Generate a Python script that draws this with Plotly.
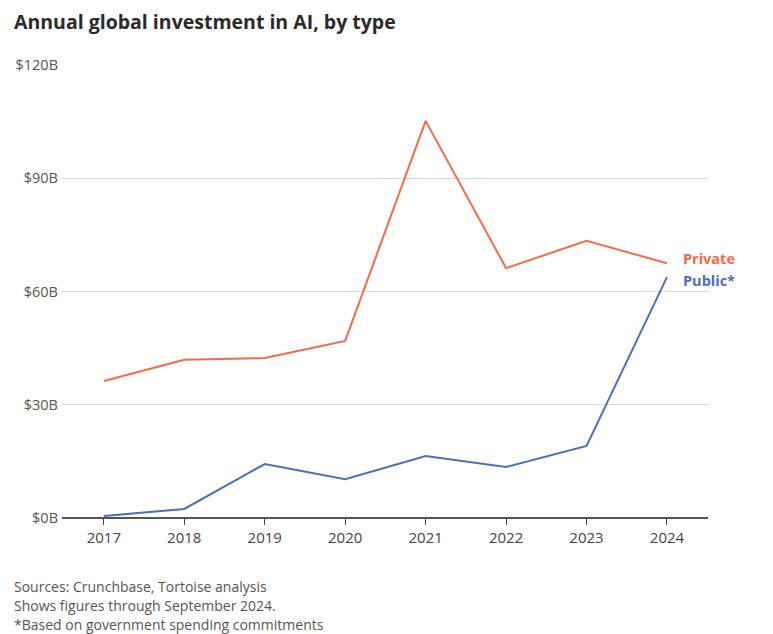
import plotly.graph_objects as go

# Annual global AI investment, billions of US dollars
years = [2017, 2018, 2019, 2020, 2021, 2022, 2023, 2024]
private_inv = [36.3, 41.9, 42.4, 46.9, 105.2, 66.2, 73.4, 67.5]
public_inv = [0.5, 2.4, 14.3, 10.3, 16.4, 13.5, 19.1, 63.8]

y_tick_vals = [0, 30, 60, 90, 120]
y_tick_text = ["$0B", "$30B", "$60B", "$90B", "$120B"]

PRIVATE_COLOR = "#F26B4A"
PUBLIC_COLOR = "#4F6DBE"
FONT = "Open Sans, sans-serif"
LEFT_EDGE = -50 / 646  # 12px from the page edge, in paper units

fig = go.Figure()
fig.add_trace(go.Scatter(
    x=years, y=private_inv, mode="lines", name="Private",
    line=dict(color=PRIVATE_COLOR, width=2), showlegend=False,
))
fig.add_trace(go.Scatter(
    x=years, y=public_inv, mode="lines", name="Public*",
    line=dict(color=PUBLIC_COLOR, width=2), showlegend=False,
))

# Series labels at the right end of each line
fig.add_annotation(x=years[-1], y=private_inv[-1], text="<b>Private</b>",
                   xanchor="left", yanchor="middle", xshift=14, yshift=5,
                   showarrow=False, font=dict(family=FONT, size=14.5, color=PRIVATE_COLOR))
fig.add_annotation(x=years[-1], y=public_inv[-1], text="<b>Public*</b>",
                   xanchor="left", yanchor="middle", xshift=14, yshift=-3,
                   showarrow=False, font=dict(family=FONT, size=14.5, color=PUBLIC_COLOR))

# Title
fig.add_annotation(xref="paper", yref="paper", x=LEFT_EDGE, y=1,
                   yshift=44, xanchor="left", yanchor="middle",
                   text="<b>Annual global investment in AI, by type</b>",
                   showarrow=False,
                   font=dict(family=FONT, size=19.5, color="#2a2a2a", weight=800))

# Footnotes
notes = ["Sources: Crunchbase, Tortoise analysis",
         "Shows figures through September 2024.",
         "*Based on government spending commitments"]
for i, line in enumerate(notes):
    fig.add_annotation(xref="paper", yref="paper", x=LEFT_EDGE, y=0,
                       yshift=-68 - 19 * i, xanchor="left", yanchor="middle",
                       text=line, showarrow=False,
                       font=dict(family=FONT, size=14, color="#555555"))

fig.update_layout(
    width=773, height=634,
    margin=dict(l=62, r=65, t=65, b=116),
    plot_bgcolor="white", paper_bgcolor="white",
    font=dict(family=FONT),
    xaxis=dict(
        range=[2016.48, 2024.51], tickmode="array", tickvals=years,
        ticktext=[str(y) for y in years],
        showgrid=False, zeroline=False, showline=False,
        ticks="outside", ticklen=6, tickcolor="#444444", tickwidth=1,
        tickfont=dict(size=15, color="#444444"),
        fixedrange=True,
    ),
    yaxis=dict(
        range=[0, 120], tickmode="array", tickvals=y_tick_vals,
        ticktext=y_tick_text,
        showgrid=True, gridcolor="#d9d9d9", gridwidth=1,
        zeroline=True, zerolinecolor="#555555", zerolinewidth=1.5,
        showline=False, ticks="", ticklabelstandoff=3,
        tickfont=dict(size=14.5, color="#555555"),
        fixedrange=True,
    ),
)

fig.write_html("out.html")
